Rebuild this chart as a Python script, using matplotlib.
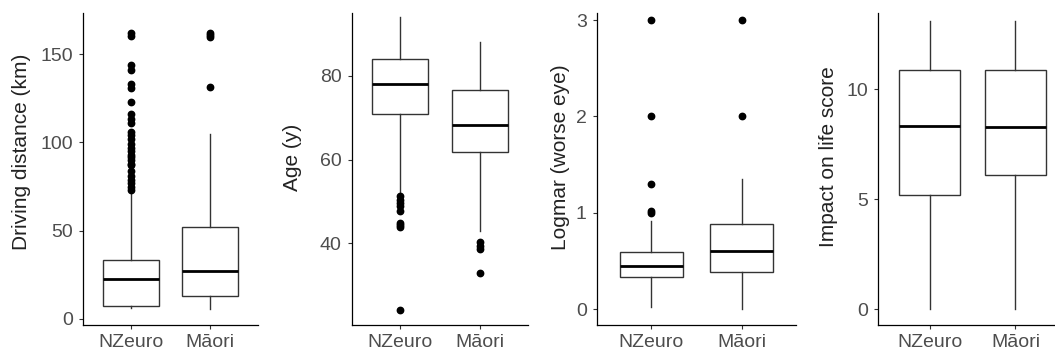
import matplotlib
matplotlib.use("Agg")
import matplotlib.pyplot as plt

plt.rcParams['font.family'] = ['Liberation Sans', 'DejaVu Sans']

groups = ["NZeuro", "Māori"]

# Driving distance (km)
drive_nzeuro = dict(whislo=6.0, q1=7.5, med=22.8, q3=33.4, whishi=70.6)
drive_nzeuro_out = [73, 75, 77, 79, 81, 84, 87, 88, 90, 92, 93, 95, 97, 99, 102,
                    104, 106, 111, 113, 116, 123, 131, 133, 141, 144, 160, 162]
drive_maori = dict(whislo=5.5, q1=13.0, med=27.0, q3=52.3, whishi=104.5)
drive_maori_out = [131.5, 159.5, 161, 162]

# Age (y)
age_nzeuro = dict(whislo=52.0, q1=70.8, med=78.2, q3=84.0, whishi=94.2)
age_nzeuro_out = [51.2, 50.4, 49.6, 48.8, 47.8, 44.9, 44.4, 44.0, 24.1]
age_maori = dict(whislo=43.0, q1=61.9, med=68.3, q3=76.6, whishi=88.2)
age_maori_out = [40.2, 39.4, 38.6, 32.8]

# Logmar (worse eye)
logmar_nzeuro = dict(whislo=0.02, q1=0.335, med=0.45, q3=0.59, whishi=0.92)
logmar_nzeuro_out = [1.0, 1.02, 1.3, 2.0, 3.0]
logmar_maori = dict(whislo=0.0, q1=0.385, med=0.60, q3=0.885, whishi=1.35)
logmar_maori_out = [2.0, 3.0]

# Impact on life score
impact_nzeuro = dict(whislo=0.0, q1=5.2, med=8.33, q3=10.88, whishi=13.12)
impact_nzeuro_out = []
impact_maori = dict(whislo=0.0, q1=6.1, med=8.3, q3=10.88, whishi=13.12)
impact_maori_out = []

panels = [
    ("Driving distance (km)", [drive_nzeuro, drive_maori], [drive_nzeuro_out, drive_maori_out],
     [0, 50, 100, 150], (-3.4, 173.3)),
    ("Age (y)", [age_nzeuro, age_maori], [age_nzeuro_out, age_maori_out],
     [40, 60, 80], (20.47, 95.06)),
    ("Logmar (worse eye)", [logmar_nzeuro, logmar_maori], [logmar_nzeuro_out, logmar_maori_out],
     [0, 1, 2, 3], (-0.163, 3.073)),
    ("Impact on life score", [impact_nzeuro, impact_maori], [impact_nzeuro_out, impact_maori_out],
     [0, 5, 10], (-0.714, 13.47)),
]

W, H = 1055, 356
fig = plt.figure(figsize=(W / 100, H / 100), dpi=100)

# axes pixel geometry: (left, width)
geom = [(83, 175), (352, 176), (597, 199), (878, 189)]
label_pos = [(22, 152), (292, 157), (561, 157), (829, 157)]
ax_bottom, ax_top = 325, 13

edge = "#333333"
for (title, stats_list, outs, ticks, ylim), (l, w), (lx, ly) in zip(panels, geom, label_pos):
    ax = fig.add_axes([l / W, (H - ax_bottom) / H, w / W, (ax_bottom - ax_top) / H])
    stats = []
    for s, o, g in zip(stats_list, outs, groups):
        d = dict(s)
        d["fliers"] = o
        d["label"] = g
        stats.append(d)
    ax.bxp(stats, positions=[1, 2], widths=0.7, showcaps=False, patch_artist=True,
           boxprops=dict(facecolor="white", edgecolor=edge, linewidth=1.0),
           whiskerprops=dict(color=edge, linewidth=1.0),
           medianprops=dict(color="black", linewidth=2.0),
           flierprops=dict(marker="o", markerfacecolor="black", markeredgecolor="black",
                           markersize=4.6, linestyle="none"))
    ax.set_xlim(0.4, 2.6)
    ax.set_ylim(*ylim)
    ax.set_yticks(ticks)
    ax.set_yticklabels([str(t) for t in ticks])
    ax.set_xticks([1, 2])
    ax.set_xticklabels(groups)
    for sp in ["top", "right"]:
        ax.spines[sp].set_visible(False)
    for sp in ["left", "bottom"]:
        ax.spines[sp].set_color("black")
        ax.spines[sp].set_linewidth(0.9)
    ax.tick_params(axis="both", length=3, width=0.8, color="#333333",
                   labelsize=14, labelcolor="#4D4D4D")
    ax.tick_params(axis="y", pad=4.3)
    ax.tick_params(axis="x", pad=3.5)
    fig.text(lx / W, 1 - ly / H, title, rotation=90, ha="center", va="center",
             fontsize=15, color="#222222")

fig.savefig("out.png", dpi=100)
